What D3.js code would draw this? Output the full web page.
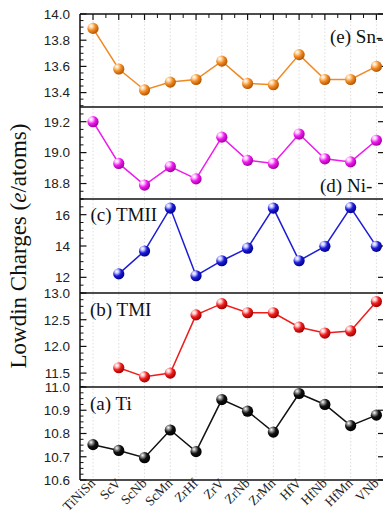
<!DOCTYPE html>
<html>
<head>
<meta charset="utf-8">
<script src="https://cdn.jsdelivr.net/npm/d3@7"></script>
<style>
  html, body { margin: 0; padding: 0; background: #fff; overflow: hidden; }
  svg { display: block; }
</style>
</head>
<body>
<svg id="chart" width="383" height="515"></svg>
<script>
// ---------------- data ----------------
const categories = ["TiNiSn","ScV","ScNb","ScMn","ZrHf","ZrV","ZrNb","ZrMn","HfV","HfNb","HfMn","VNb"];

const snValues   = [13.89, 13.58, 13.42, 13.48, 13.50, 13.64, 13.47, 13.46, 13.69, 13.50, 13.50, 13.60];
const niValues   = [19.20, 18.93, 18.79, 18.91, 18.83, 19.10, 18.95, 18.93, 19.12, 18.96, 18.94, 19.08];
const tmiiValues = [null, 12.22, 13.68, 16.42, 12.10, 13.06, 13.86, 16.42, 13.06, 13.98, 16.45, 13.98];
const tmiValues  = [null, 11.60, 11.43, 11.50, 12.59, 12.80, 12.63, 12.63, 12.36, 12.25, 12.29, 12.84];
const tiValues   = [10.752, 10.727, 10.696, 10.815, 10.722, 10.946, 10.896, 10.806, 10.972, 10.925, 10.834, 10.879];

const snTicks   = [13.4, 13.6, 13.8, 14.0];
const niTicks   = [18.8, 19.0, 19.2];
const tmiiTicks = [12, 14, 16];
const tmiTicks  = [11.5, 12.0, 12.5, 13.0];
const tiTicks   = [10.6, 10.7, 10.8, 10.9, 11.0];

const panelLabels = ["(e) Sn-", "(d) Ni-", "(c) TMII", "(b) TMI", "(a) Ti"];
const yTitle = "Lowdin Charges (";
const yTitleItalic = "e";
const yTitleEnd = "/atoms)";

// ---------------- layout ----------------
const svg = d3.select("#chart");
const left = 80, right = 384;

const x = d3.scalePoint().domain(categories).range([93, 376.4]);

const panels = [
  { values: snValues,   ticks: snTicks,   fmt: d3.format(".1f"), domain: [13.29, 14.0], top: 14,  bottom: 107,
    color: "#f08a24", dark: "#b35400", light: "#ffd9a8", label: panelLabels[0], lx: 330, ly: 43, minor: 0.05 },
  { values: niValues,   ticks: niTicks,   fmt: d3.format(".1f"), domain: [18.70, 19.295], top: 107, bottom: 199,
    color: "#ee1aee", dark: "#a000a0", light: "#ffc8ff", label: panelLabels[1], lx: 320, ly: 192, minor: 0.05 },
  { values: tmiiValues, ticks: tmiiTicks, fmt: d3.format("d"),   domain: [11, 17],      top: 199, bottom: 293,
    color: "#1c1cd8", dark: "#00008a", light: "#c8c8ff", label: panelLabels[2], lx: 90.5, ly: 221, minor: 0.5 },
  { values: tmiValues,  ticks: tmiTicks,  fmt: d3.format(".1f"), domain: [11.24, 13.0], top: 293, bottom: 387,
    color: "#ee1c1c", dark: "#a00000", light: "#ffc8c8", label: panelLabels[3], lx: 90, ly: 316, minor: 0.125 },
  { values: tiValues,   ticks: tiTicks,   fmt: d3.format(".1f"), domain: [10.6, 11.0],  top: 387, bottom: 480,
    color: "#111111", dark: "#000000", light: "#9a9a9a", label: panelLabels[4], lx: 90, ly: 410, minor: 0.025 }
];

const defs = svg.append("defs");
panels.forEach((p, i) => {
  const g = defs.append("radialGradient")
    .attr("id", "ball" + i)
    .attr("cx", "35%").attr("cy", "32%").attr("r", "70%").attr("fx", "32%").attr("fy", "28%");
  g.append("stop").attr("offset", "0%").attr("stop-color", "#ffffff");
  g.append("stop").attr("offset", "22%").attr("stop-color", p.light);
  g.append("stop").attr("offset", "55%").attr("stop-color", p.color);
  g.append("stop").attr("offset", "100%").attr("stop-color", p.dark);
});

// vertical dotted grid lines
svg.append("g").selectAll("line").data(categories).join("line")
  .attr("x1", d => x(d)).attr("x2", d => x(d))
  .attr("y1", 14).attr("y2", 480)
  .attr("stroke", "#d4d4d4").attr("stroke-width", 0.8)
  .attr("stroke-dasharray", "1.5,2");

panels.forEach((p, i) => {
  const y = d3.scaleLinear().domain(p.domain).range([p.bottom, p.top]);
  const g = svg.append("g");

  // minor ticks left
  const minorTicks = d3.range(Math.ceil(p.domain[0] / p.minor) * p.minor, p.domain[1] + 1e-9, p.minor)
    .filter(v => !p.ticks.some(t => Math.abs(t - v) < 1e-6));
  g.selectAll(".mt").data(minorTicks).join("line")
    .attr("x1", left).attr("x2", left + 3.5)
    .attr("y1", d => y(d)).attr("y2", d => y(d))
    .attr("stroke", "#111").attr("stroke-width", 1);

  // major ticks left + right
  g.selectAll(".Mt").data(p.ticks).join("line")
    .attr("x1", left).attr("x2", left + 6.5)
    .attr("y1", d => y(d)).attr("y2", d => y(d))
    .attr("stroke", "#111").attr("stroke-width", 1.2);
  g.selectAll(".Rt").data(p.ticks).join("line")
    .attr("x1", right - 6).attr("x2", right)
    .attr("y1", d => y(d)).attr("y2", d => y(d))
    .attr("stroke", "#111").attr("stroke-width", 1.2);

  // tick labels
  g.selectAll(".tl").data(p.ticks).join("text")
    .attr("x", 70).attr("y", d => y(d))
    .attr("dy", "0.36em")
    .attr("text-anchor", "end")
    .attr("font-family", "Liberation Sans, Arial, sans-serif")
    .attr("font-size", 13.5)
    .attr("fill", "#222")
    .text(d => p.fmt(d));

  // line
  const line = d3.line()
    .defined(d => d != null)
    .x((d, j) => x(categories[j]))
    .y(d => y(d));
  g.append("path").datum(p.values)
    .attr("d", line)
    .attr("fill", "none")
    .attr("stroke", p.color)
    .attr("stroke-width", 1.5);

  // markers
  const pts = p.values.map((v, j) => ({ v, c: categories[j] })).filter(d => d.v != null);
  g.selectAll("circle").data(pts).join("circle")
    .attr("cx", d => x(d.c)).attr("cy", d => y(d.v))
    .attr("r", 5.6)
    .attr("fill", `url(#ball${i})`);

  // panel label
  g.append("text")
    .attr("x", p.lx).attr("y", p.ly)
    .attr("font-family", "Liberation Serif, Times New Roman, serif")
    .attr("font-size", 19)
    .attr("fill", "#111")
    .text(p.label);

  // separator line (top of each panel)
  g.append("line")
    .attr("x1", left).attr("x2", right + 5)
    .attr("y1", p.top).attr("y2", p.top)
    .attr("stroke", "#111").attr("stroke-width", 1.5);
});

// top axis ticks (inward)
const step = x.step();
const midTicks = categories.slice(0, -1).map(c => x(c) + step / 2);
svg.append("g").selectAll("line").data(categories).join("line")
  .attr("x1", d => x(d)).attr("x2", d => x(d))
  .attr("y1", 14).attr("y2", 20)
  .attr("stroke", "#111").attr("stroke-width", 1.2);
svg.append("g").selectAll("line").data(midTicks).join("line")
  .attr("x1", d => d).attr("x2", d => d)
  .attr("y1", 14).attr("y2", 18)
  .attr("stroke", "#111").attr("stroke-width", 1);

// bottom axis line and frames
svg.append("line")
  .attr("x1", left).attr("x2", right + 5)
  .attr("y1", 480).attr("y2", 480)
  .attr("stroke", "#111").attr("stroke-width", 1.5);
svg.append("line")
  .attr("x1", left).attr("x2", left)
  .attr("y1", 14).attr("y2", 480)
  .attr("stroke", "#111").attr("stroke-width", 1.5);
svg.append("line")
  .attr("x1", right).attr("x2", right)
  .attr("y1", 14).attr("y2", 480)
  .attr("stroke", "#111").attr("stroke-width", 1.5);

// x tick labels
svg.append("g").selectAll("text").data(categories).join("text")
  .attr("transform", d => `translate(${x(d) + 3},${484}) rotate(-45)`)
  .attr("text-anchor", "end")
  .attr("font-family", "Liberation Serif, Times New Roman, serif")
  .attr("font-size", 13.5)
  .attr("fill", "#222")
  .text(d => d);

// y axis title
const t = svg.append("text")
  .attr("transform", "translate(26,246) rotate(-90)")
  .attr("text-anchor", "middle")
  .attr("font-family", "Liberation Serif, Times New Roman, serif")
  .attr("font-size", 23)
  .attr("fill", "#111");
t.append("tspan").text(yTitle);
t.append("tspan").attr("font-style", "italic").text(yTitleItalic);
t.append("tspan").text(yTitleEnd);
</script>
</body>
</html>
